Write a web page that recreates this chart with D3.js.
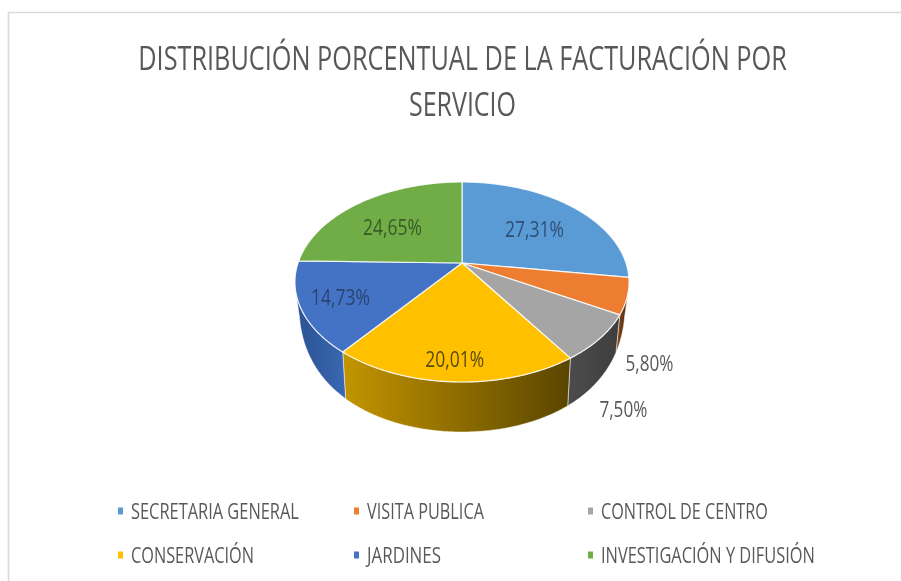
<!DOCTYPE html>
<html lang="es">
<head>
<meta charset="utf-8">
<script src="https://cdn.jsdelivr.net/npm/d3@7/dist/d3.min.js"></script>
<style>
html,body{margin:0;padding:0;background:#fff;overflow:hidden}
svg{display:block}
text{font-family:"Open Sans","Liberation Sans",sans-serif}
</style>
</head>
<body>
<svg id="chart" width="901" height="581"></svg>
<script>
const categories = ["SECRETARIA GENERAL","VISITA PUBLICA","CONTROL DE CENTRO","CONSERVACIÓN","JARDINES","INVESTIGACIÓN Y DIFUSIÓN"];
const values = [27.31,5.80,7.50,20.01,14.73,24.65];
const valueLabels = ["27,31%","5,80%","7,50%","20,01%","14,73%","24,65%"];
const titleLines = ["DISTRIBUCIÓN PORCENTUAL DE LA FACTURACIÓN POR","SERVICIO"];
const colors = ["#5b9bd5","#ed7d31","#a5a5a5","#ffc000","#4472c4","#70ad47"];
const sideStops = [
  ["#3c6f9f","#3c6f9f"],
  ["#8a4a1c","#4a2508"],
  ["#4c4c4c","#3e3e3e"],
  ["#c39500","#5a4500"],
  ["#2c5290","#3a68b4"],
  ["#43682a","#43682a"]
];

const svg = d3.select("#chart");
const cx = 462, cy = 263;
const R = 164, S = 96.4, K = 0.19;
const bottomR = 160;
const sideMin = 105 * Math.PI/180, sideMax = 255 * Math.PI/180;

// perspective projection of the pie disc
const top3d = (a, r=1) => {
  const u = r*Math.sin(a), v = -r*Math.cos(a), w = 1 - K*v;
  return [cx + R*u/w, cy + S*v/w];
};
const bottom3d = a => {
  const u = Math.sin(a), v = -Math.cos(a), w = 1 - K*v;
  return [cx + bottomR*u/w, cy + 14 + 155*v];
};

const pie = d3.pie().sort(null).value(d => d);
const arcs = pie(values);
const line = d3.line();
const sample = (a0, a1, step=0.01) => {
  const n = Math.max(2, Math.ceil(Math.abs(a1-a0)/step));
  return d3.range(n+1).map(i => a0 + (a1-a0)*i/n);
};

// condense a text horizontally to the width it has in the chart
function condense(sel, x, y, span) {
  sel.each(function(d,i) {
    const t = d3.select(this);
    const k = span(d,i) / this.getComputedTextLength();
    t.attr("transform",`translate(${x(d,i)},${y(d,i)}) scale(${k},1)`);
  });
}

const defs = svg.append("defs");
defs.append("filter").attr("id","soft").append("feGaussianBlur").attr("stdDeviation",0.45);

// chart frame
svg.append("path")
  .attr("d", `M8.5 581V12.5H901`)
  .attr("fill","none").attr("stroke","#d9d9d9").attr("stroke-width",1.6);

// sides
const sides = svg.append("g");
arcs.forEach((d,i) => {
  const a0 = Math.max(d.startAngle, sideMin), a1 = Math.min(d.endAngle, sideMax);
  if (a1 <= a0) return;
  const ts = sample(a0,a1);
  const pts = ts.map(a => top3d(a)).concat(ts.slice().reverse().map(bottom3d));
  const xs = pts.map(p => p[0]);
  const g = defs.append("linearGradient").attr("id","side"+i)
    .attr("gradientUnits","userSpaceOnUse")
    .attr("x1",d3.min(xs)).attr("x2",d3.max(xs)).attr("y1",0).attr("y2",0);
  g.append("stop").attr("offset",0).attr("stop-color",sideStops[i][0]);
  g.append("stop").attr("offset",1).attr("stop-color",sideStops[i][1]);
  sides.append("path").attr("d",line(pts)+"Z")
    .attr("fill",`url(#side${i})`)
    .attr("stroke","#fff").attr("stroke-width",0.7).attr("stroke-opacity",0.7);
});

// top face
const face = svg.append("g");
arcs.forEach((d,i) => {
  const pts = [[cx,cy]].concat(sample(d.startAngle,d.endAngle).map(a => top3d(a)));
  face.append("path").attr("d",line(pts)+"Z")
    .attr("fill",colors[i])
    .attr("stroke","#fff").attr("stroke-width",1.2).attr("stroke-linejoin","round")
    .attr("stroke-opacity",0.85);
});

// data labels
const labelRadial = [0.62,1,1,0.83,0.78,0.65];
const labelNudge = [[1,2],[22,67],[23,71],[-1,1],[2,0],[-1,5]];
const labelColor = ["#2f4f73","#595959","#595959","#5c4a10","#2b4470","#3a5a28"];
const labelSpan = [59,48,48,59,59,59];
svg.append("g").selectAll("text").data(arcs).join("text")
  .attr("dy","0.36em").attr("text-anchor","middle")
  .attr("font-size",22)
  .attr("fill",(d,i)=>labelColor[i])
  .attr("filter","url(#soft)")
  .text((d,i)=>valueLabels[i])
  .call(condense,
    (d,i)=>top3d((d.startAngle+d.endAngle)/2,labelRadial[i])[0]+labelNudge[i][0],
    (d,i)=>top3d((d.startAngle+d.endAngle)/2,labelRadial[i])[1]+labelNudge[i][1],
    (d,i)=>labelSpan[i]);

// title
const titleSpan = [649,107];
svg.append("g").selectAll("text").data(titleLines).join("text")
  .attr("text-anchor","middle")
  .attr("font-size",33)
  .attr("fill","#595959")
  .attr("filter","url(#soft)")
  .text(d=>d)
  .call(condense, ()=>462.5, (d,i)=>70+i*46, (d,i)=>titleSpan[i]);

// legend
const legendSpan = [168,117,167,123,74,214];
const legendCol = d3.scaleOrdinal().domain([0,1,2]).range([118,354,588]);
const legendRow = d3.scaleOrdinal().domain([0,1]).range([511,555]);
const leg = svg.append("g").selectAll("g").data(categories).join("g")
  .attr("transform",(d,i)=>`translate(${legendCol(i%3)},${legendRow(Math.floor(i/3))})`);
leg.append("rect").attr("x",0).attr("y",-3.5).attr("width",5).attr("height",7)
  .attr("fill",(d,i)=>colors[i]);
leg.append("text").attr("dy","0.36em")
  .attr("font-size",22).attr("fill","#595959")
  .attr("filter","url(#soft)")
  .text(d=>d)
  .call(condense, ()=>13, ()=>0, (d,i)=>legendSpan[i]);
</script>
</body>
</html>
